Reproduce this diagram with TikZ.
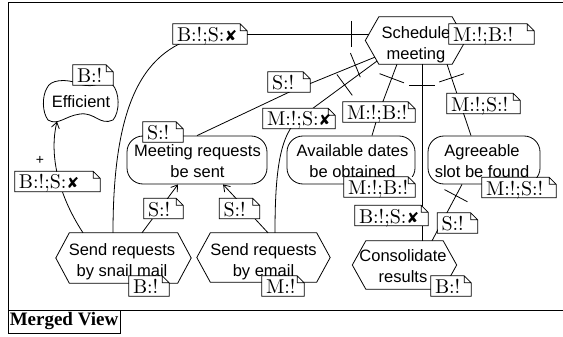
\documentclass[tikz,border=0pt]{standalone}
\usepackage{fontspec}
\setsansfont{Liberation Sans}
\newfontfamily\djv{DejaVu Sans}
\newfontfamily\tnr{Liberation Serif}
\newfontfamily\notefont{lmroman10-regular.otf}
\usetikzlibrary{calc,arrows.meta,decorations.markings}
\pgfdeclarelayer{links}
\pgfsetlayers{links,main}
\newcommand\xm{{\djv\fontsize{15}{15}\selectfont ✘}}
\tikzset{
  lw/.style={line width=0.8pt},
  notest/.style={fill=white, inner xsep=4pt, inner ysep=0pt, text height=17.5pt,
    text depth=2.5pt, align=left, font=\notefont\fontsize{20}{22}\selectfont},
  elemtxt/.style={font=\sffamily\fontsize{16.5}{20.5}\selectfont, align=center, inner sep=0pt},
  goalst/.style={draw, line width=0.8pt, rounded corners=16pt, minimum height=48pt, inner sep=0pt},
  hexin/.style={inner sep=0pt, draw=none},
  link/.style={line width=0.8pt},
  dtick/.style={postaction={decorate, decoration={markings,
      mark=at position #1 with {\draw[line width=0.8pt] (0pt,-13pt) -- (0pt,13pt);}}}},
  meend/.style={line width=0.8pt, -{Straight Barb[length=6pt,width=8pt]}},
  framest/.style={line width=1pt},
}
\newcommand\notebox[4]{%
  \node[notest, text width=#3] (#1) at (#2) {#4};
  \draw[lw] (#1.south west) -- (#1.south east) -- ([yshift=-7pt]#1.north east)
    -- ([xshift=-7pt]#1.north east) -- (#1.north west) -- cycle
    ([xshift=-7pt]#1.north east) |- ([yshift=-7pt]#1.north east);}
\newcommand\hexat[4]{%
  \node[hexin, minimum width=#3, minimum height=#4] (#1) at (#2) {};
  \draw[lw] (#1.north west) -- (#1.north east) -- ([xshift=13.5pt]#1.east)
    -- (#1.south east) -- (#1.south west) -- ([xshift=-13.5pt]#1.west) -- cycle;}
\begin{document}
\begin{tikzpicture}[x=1pt,y=-1pt]
\useasboundingbox (0,0) rectangle (563,337);
% frame
\draw[framest] (8,333) -- (8,2.5) -- (563,2.5);
\draw[framest] (8,310) -- (563,310);
\node[draw, line width=0.8pt, minimum width=112pt, minimum height=23pt, inner sep=0pt,
  font=\tnr\bfseries\fontsize{19}{19}\selectfont] (mv) at (64,321.5) {Merged View};
% tasks (hexagons)
\hexat{sched}{415.5,40.5}{73pt}{47pt}
\hexat{snail}{123.5,258}{108pt}{50pt}
\hexat{email}{263.5,257.5}{106pt}{49pt}
\hexat{cons}{404.5,265}{77pt}{48pt}
% goals
\node[goalst, minimum width=140pt] (meet) at (197,160) {};
\node[goalst, minimum width=128pt] (avail) at (351,160) {};
\node[goalst, minimum width=112pt] (agree) at (484,160) {};
% softgoal
\draw[lw] (47,88) .. controls (50,80) and (65,78) .. (80,84)
  .. controls (95,90) and (105,78) .. (112,84)
  .. controls (120,92) and (120,112) .. (113,120)
  .. controls (100,126) and (95,112) .. (80,114)
  .. controls (65,116) and (58,126) .. (48,120)
  .. controls (42,112) and (42,96) .. (47,88) -- cycle;
\coordinate (effbot) at (57,121.5);
% texts
\node[elemtxt] (effT) at (81,101.3) {Efficient};
\node[elemtxt] (schedT) at (416,44.5) {Schedule\\meeting};
\node[elemtxt] (snailT) at (122,261.8) {Send requests\\by snail mail};
\node[elemtxt] (emailT) at (263.5,261.8) {Send requests\\by email};
\node[elemtxt] (consT) at (403,266.2) {Consolidate\\results};
\node[elemtxt] (meetT) at (197.5,161) {Meeting requests\\be sent};
\node[elemtxt] (availT) at (352.5,161) {Available dates\\be obtained};
\node[elemtxt] (agreeT) at (482,161) {Agreeable\\slot be found};
\node[font=\sffamily\fontsize{14}{14}\selectfont, inner sep=0pt] (plus) at (40,160) {+};
% notes
\notebox{nEff}{93,75}{32pt}{B:!}
\notebox{nSched}{491.5,34}{77pt}{M:!;B:!}
\notebox{n1}{210,34}{66pt}{B:!;S:\xm}
\notebox{nMR}{163,132}{32pt}{S:!}
\notebox{n2}{289,82}{34pt}{S:!}
\notebox{n3}{299,118.5}{64pt}{M:!;S:\xm}
\notebox{n4}{379,112}{64pt}{M:!;B:!}
\notebox{n6}{483.5,103.5}{65pt}{M:!;S:!}
\notebox{nAv}{379.5,187}{63pt}{M:!;B:!}
\notebox{nAg}{519,187.5}{66pt}{M:!;S:!}
\notebox{n5}{391.5,215.5}{65pt}{B:!;S:\xm}
\notebox{n7}{457.5,223}{32pt}{S:!}
\notebox{nCons}{451,286}{32pt}{B:!}
\notebox{nSnail}{149,286}{32pt}{B:!}
\notebox{nEmail}{283,286}{34pt}{M:!}
\notebox{n8}{163.5,208.5}{31pt}{S:!}
\notebox{n9}{239.5,208.5}{32pt}{S:!}
\notebox{n10}{57.5,181.5}{77pt}{B:!;S:\xm}
% links
\begin{pgfonlayer}{links}
\draw[link, dtick=17.6pt] ($(sched.west |- n1.center)+(-9.4,0)$) -- (n1.center);
\draw[link] (n1.center) .. controls (150,45) and (113,90) .. ($(snail.north)+(-10.5,0)$);
\draw[link, dtick=21pt] ($(sched.south west)+(-4,-7)$) -- (n2.south) -- (meet.north);
\draw[link, dtick=40pt] ($(sched.south west)+(-2,-3)$) -- (n3.center);
\draw[link] (n3.center) .. controls (280,135) and (275,170) .. ($(email.north)+(11.5,0)$);
\draw[link, dtick=15pt] ($(sched.south)+(-18.5,0)$) -- (n4.center) -- ($(avail.north)+(21,0)$);
\draw[link, dtick=21pt] ($(sched.south)+(6.5,0)$) -- ($(cons.north)+(17.5,0)$);
\draw[link, dtick=14.4pt] ($(sched.south)+(31.5,0)$) -- ($(agree.north)+(-13,0)$);
\draw[link, dtick=12.8pt] ($(agree.south)+(-22,0)$) -- ($(cons.north)+(27.5,0)$);
\draw[meend] ($(snail.north)+(18.5,0)$) -- ($(meet.south)+(-19,0)$);
\draw[meend] ($(email.north)+(4.5,0)$) -- ($(meet.south)+(26,0)$);
\draw[meend] ($(snail.north)+(-40.5,0)$) .. controls (55,190) and (50,150) .. (effbot);
\end{pgfonlayer}
\end{tikzpicture}
\end{document}
